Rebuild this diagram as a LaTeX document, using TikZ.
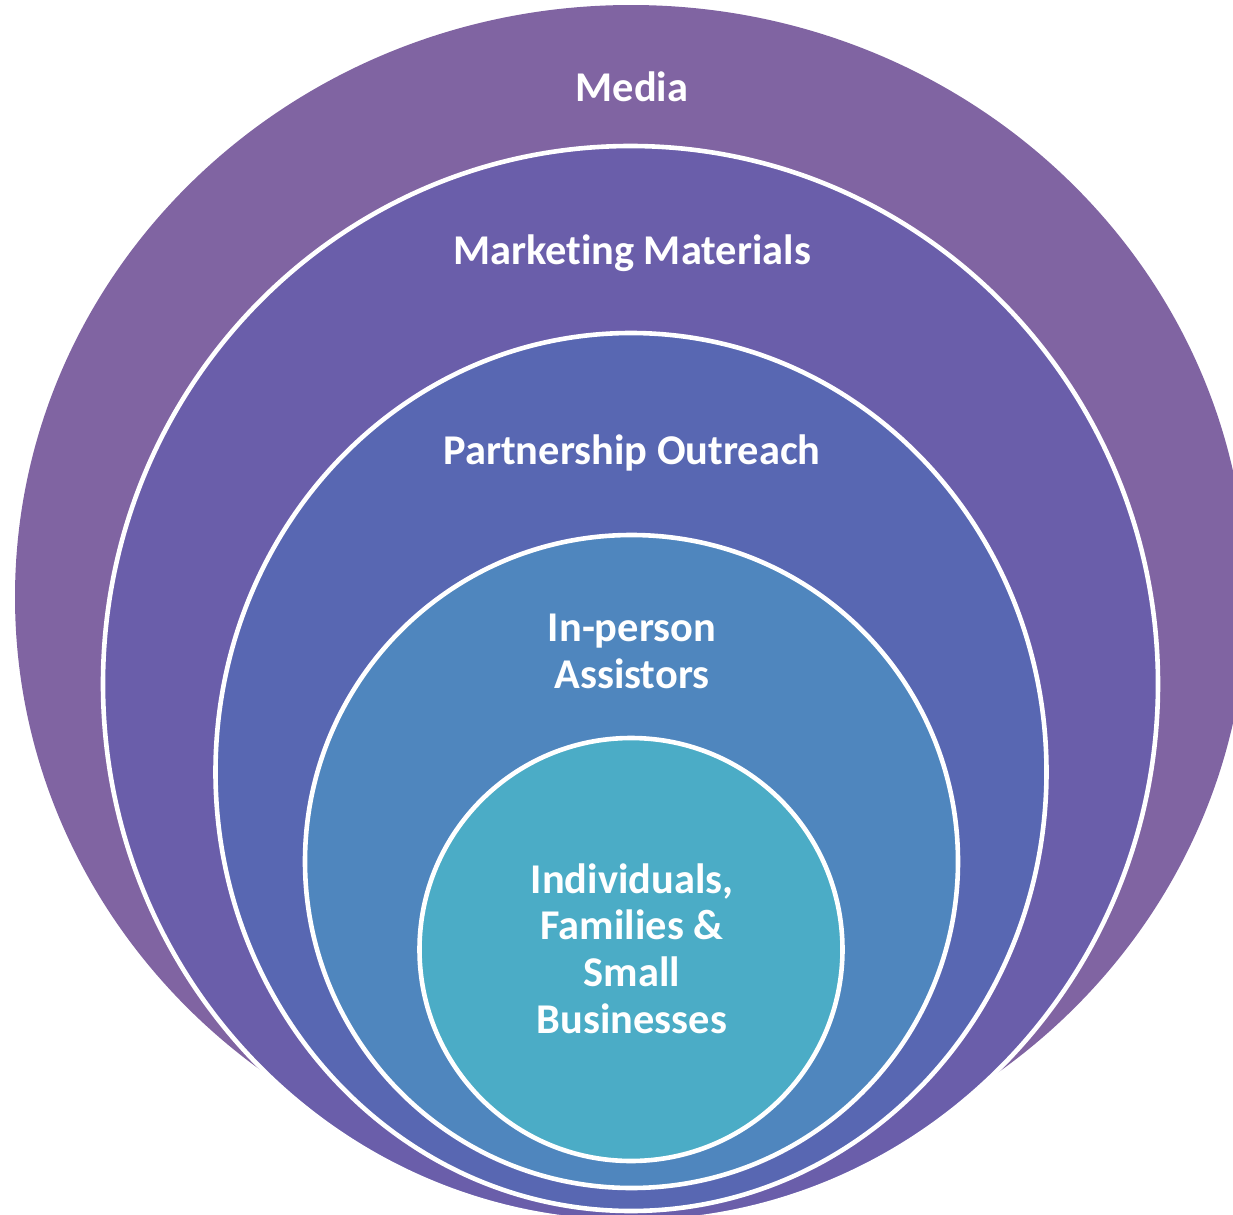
\documentclass[tikz,border=0pt]{standalone}
\usepackage{fontspec}
\setmainfont{Carlito}[Ligatures=NoCommon]
\usepackage{tikz}

\definecolor{mediacol}{HTML}{8064A2}
\definecolor{marketcol}{HTML}{6A5EAA}
\definecolor{partnercol}{HTML}{5867B2}
\definecolor{assistcol}{HTML}{4F86BE}
\definecolor{peoplecol}{HTML}{4BACC6}

\begin{document}
\begin{tikzpicture}[
    x=0.5pt,
    y=-0.5pt,
    ring/.style={fill=#1, draw=white, line width=2.3pt},
    lbl/.style={text=white, font=\fontsize{21.2}{23.3}\selectfont\bfseries,
                align=center, anchor=base, inner sep=0pt}
]
\useasboundingbox (0,0) rectangle (1233,1215);
\clip (0,0) rectangle (1233,1215);

% Rings, outermost first
\fill[mediacol] (631,597) ellipse [x radius=616, y radius=592];
\filldraw[ring=marketcol] (630.5,684) ellipse [x radius=527.5, y radius=538];
\filldraw[ring=partnercol] (631,772) ellipse [x radius=415.5, y radius=439];
\filldraw[ring=assistcol] (631.5,861.5) circle [radius=326.5];
\filldraw[ring=peoplecol] (631,949.5) circle [radius=211.5];

% Labels (base = last line)
\node[lbl] (media) at (632,101) {Media};
\node[lbl] (market) at (632,264) {Marketing Materials};
\node[lbl] (partner) at (632,464) {Partnership Outreach};
\node[lbl] (assist) at (632,688) {In-person\\Assistors};
\node[lbl] (people) at (632,1033) {Individuals,\\Families \&\\Small\\Businesses};

\end{tikzpicture}
\end{document}
